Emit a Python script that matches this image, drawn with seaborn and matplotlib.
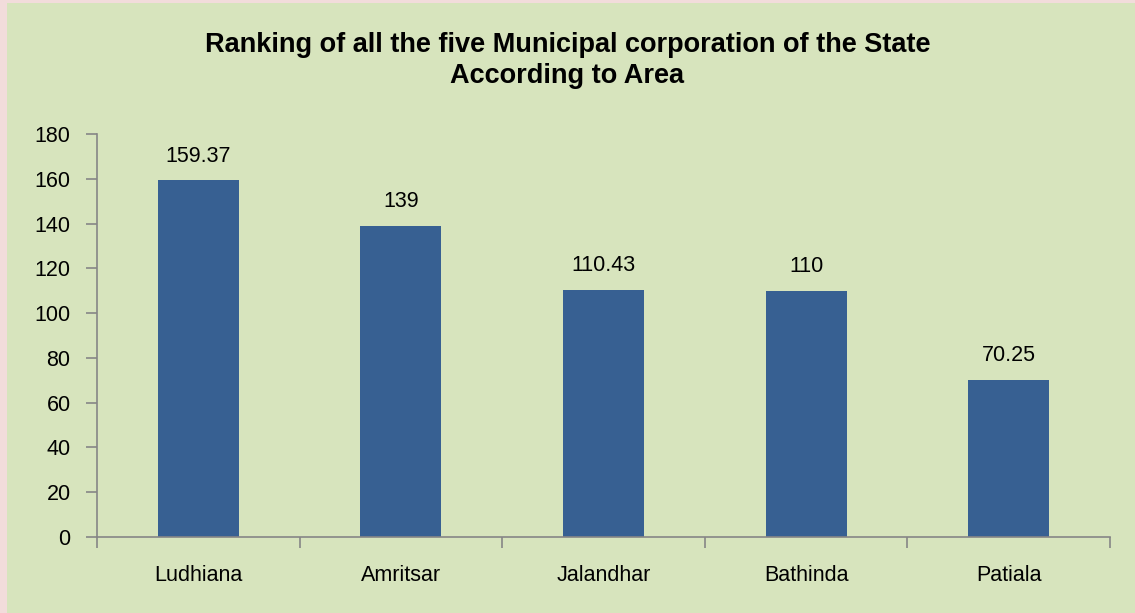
import matplotlib
matplotlib.use("Agg")
import matplotlib.pyplot as plt
import matplotlib.patches as mpatches
import pandas as pd
import seaborn as sns

cities = ["Ludhiana", "Amritsar", "Jalandhar", "Bathinda", "Patiala"]
area = [159.37, 139, 110.43, 110, 70.25]
area_labels = ["159.37", "139", "110.43", "110", "70.25"]

df = pd.DataFrame({"City": cities, "Area": area})

sns.set_style("white")
plt.rcParams['font.family'] = ['Liberation Sans', 'DejaVu Sans']
plt.rcParams['text.color'] = 'black'
plt.rcParams['xtick.labelcolor'] = 'black'
plt.rcParams['ytick.labelcolor'] = 'black'

fig = plt.figure(figsize=(11.35, 6.13), dpi=100, facecolor="#F2DCDB")
fig.patches.append(mpatches.Rectangle((7 / 1135, 0), 1, 1 - 3 / 613, transform=fig.transFigure,
                                      facecolor="#D7E4BD", edgecolor="none", zorder=-1))
ax = fig.add_axes([97 / 1135, 1 - 537 / 613, (1110 - 97) / 1135, (537 - 134) / 613])
ax.set_zorder(2)
ax.set_facecolor("none")

sns.barplot(data=df, x="City", y="Area", color="#376092", width=0.4, saturation=1,
            edgecolor="none", linewidth=0, ax=ax)

# value labels above bars
for i, (v, t) in enumerate(zip(area, area_labels)):
    ax.text(i, v + 6, t, ha="center", va="bottom", fontsize=15.5, color="black")

ax.set_ylim(0, 180)
ax.set_yticks(range(0, 181, 20))
ax.set_xlim(-0.5, 4.5)
ax.set_xlabel("")
ax.set_ylabel("")
for s in ["top", "right"]:
    ax.spines[s].set_visible(False)
for s in ["left", "bottom"]:
    ax.spines[s].set_color("#868686")
    ax.spines[s].set_linewidth(1.2)

ax.tick_params(axis="y", length=8, width=1.2, color="#868686", labelsize=15.5, pad=11, left=True)
ax.tick_params(axis="x", which="major", length=0, labelsize=15.5, pad=20)
ax.set_xticks([i - 0.5 for i in range(6)], minor=True)
ax.tick_params(axis="x", which="minor", length=8, width=1.2, color="#868686", bottom=True)

fig.text(0.5, 1 - 45 / 613, "Ranking of all the five Municipal corporation of the State",
         ha="center", va="center", fontsize=19.5, fontweight="bold")
fig.text(0.5, 1 - 76 / 613, "According to Area",
         ha="center", va="center", fontsize=19.5, fontweight="bold")

plt.savefig("out.png", dpi=100, facecolor=fig.get_facecolor())
